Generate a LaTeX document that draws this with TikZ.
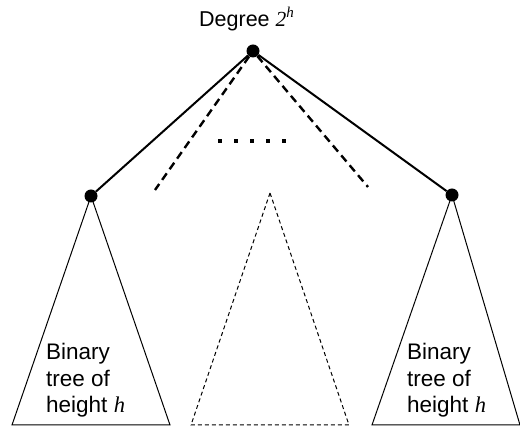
\documentclass[tikz,border=0pt]{standalone}
\usepackage{fontspec}
\setmainfont{Liberation Sans}
\newfontfamily\timesfont{Liberation Serif}

\begin{document}
\begin{tikzpicture}[x=1pt, y=-1pt, font=\fontsize{22.5}{26.5}\selectfont,
    vertex/.style={circle, fill, inner sep=0pt, minimum size=13pt},
    treeedge/.style={line width=2pt},
    spoke/.style={line width=2.4pt, dash pattern=on 8pt off 5pt},
    subtree/.style={line width=1pt, line join=miter},
    ghost/.style={line width=1pt, dash pattern=on 4pt off 3pt},
    caption/.style={align=left, inner sep=0pt, anchor=north west}]
  \useasboundingbox (0,0) rectangle (520,427);
  % root with its degree
  \node[anchor=base west, inner sep=0pt, font=\fontsize{21.5}{25}\selectfont] (deg) at (199,27)
       {Degree {\timesfont\itshape 2\raisebox{0.42em}{\fontsize{15}{15}\selectfont h}}};
  \node[vertex] (root) at (253,51) {};
  % the two children that are drawn
  \node[vertex] (left) at (91,196) {};
  \node[vertex] (right) at (452,195) {};
  \draw[treeedge] (root) -- (left);
  \draw[treeedge] (root) -- (right);
  % the children left out
  \coordinate (lspoke) at (155,190);
  \coordinate (rspoke) at (368,187);
  \draw[spoke] (root) -- (lspoke);
  \draw[spoke] (root) -- (rspoke);
  \foreach \x in {220,236,252,268,284}
    \fill (\x-2,139) rectangle ++(4,4);
  % subtrees
  \draw[subtree] (left.center) -- (12,425) -- (170,425) -- cycle;
  \draw[subtree] (right.center) -- (372,425) -- (520,425) -- cycle;
  \draw[ghost] (270,193) -- (191,425) -- (349,425) -- cycle;
  \node[caption] (ltext) at (46,343)
       {Binary\\tree of\\height {\timesfont\itshape h}};
  \node[caption] (rtext) at (407,343)
       {Binary\\tree of\\height {\timesfont\itshape h}};
\end{tikzpicture}
\end{document}
